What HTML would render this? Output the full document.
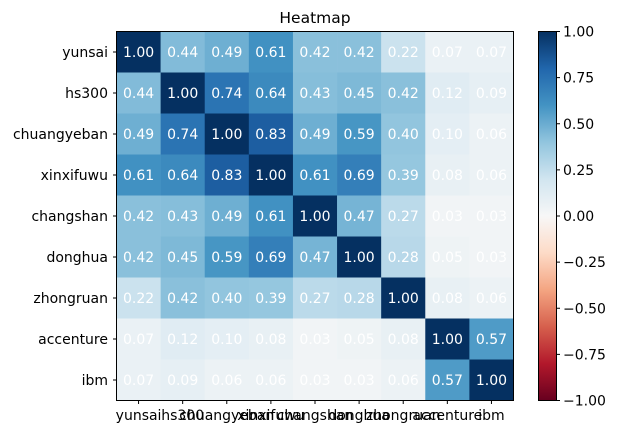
<!DOCTYPE html>
<html><head><meta charset="utf-8"><style>
html,body{margin:0;padding:0;background:#fff;}
svg{display:block;font-family:"DejaVu Sans","Liberation Sans",sans-serif;}
</style></head><body>
<svg id="s" width="641" height="435" viewBox="0 0 641 435" xmlns="http://www.w3.org/2000/svg">
<defs>
<linearGradient id="cb" x1="0" y1="1" x2="0" y2="0">
<stop offset="0" stop-color="#67001f"/><stop offset="0.1" stop-color="#b2182b"/><stop offset="0.2" stop-color="#d6604d"/><stop offset="0.3" stop-color="#f4a582"/><stop offset="0.4" stop-color="#fddbc7"/><stop offset="0.5" stop-color="#f7f7f7"/><stop offset="0.6" stop-color="#d1e5f0"/><stop offset="0.7" stop-color="#92c5de"/><stop offset="0.8" stop-color="#4393c3"/><stop offset="0.9" stop-color="#2166ac"/><stop offset="1" stop-color="#053061"/>
</linearGradient>
</defs>
<text x="315" y="23" font-size="15.5" text-anchor="middle">Heatmap</text>
<g id="cells"></g>
<rect x="116.5" y="31.5" width="397" height="369" fill="none" stroke="#000" stroke-width="1"/>
<rect x="538.5" y="31.5" width="18" height="369" fill="url(#cb)" stroke="#000" stroke-width="1"/>
<g id="ax" font-size="14"></g>
</svg>
<script>
var names=["yunsai","hs300","chuangyeban","xinxifuwu","changshan","donghua","zhongruan","accenture","ibm"];
var M=[[1,.44,.49,.61,.42,.42,.22,.07,.07],[.44,1,.74,.64,.43,.45,.42,.12,.09],[.49,.74,1,.83,.49,.59,.40,.10,.06],[.61,.64,.83,1,.61,.69,.39,.08,.06],[.42,.43,.49,.61,1,.47,.27,.03,.03],[.42,.45,.59,.69,.47,1,.28,.05,.03],[.22,.42,.40,.39,.27,.28,1,.08,.06],[.07,.12,.10,.08,.03,.05,.08,1,.57],[.07,.09,.06,.06,.03,.03,.06,.57,1]];
var st=["67001f","b2182b","d6604d","f4a582","fddbc7","f7f7f7","d1e5f0","92c5de","4393c3","2166ac","053061"].map(function(h){return [parseInt(h.substr(0,2),16),parseInt(h.substr(2,2),16),parseInt(h.substr(4,2),16)]});
function col(v){var t=(v+1)/2*10;var i=Math.min(9,Math.floor(t));var f=t-i;var a=st[i],b=st[i+1];return "rgb("+[0,1,2].map(function(k){return Math.round(a[k]+(b[k]-a[k])*f)}).join(",")+")";}
var L=116.5,T=31.5,W=397/9,H=369/9,s="",a="";
for(var r=0;r<9;r++)for(var c=0;c<9;c++){var x=L+c*W,y=T+r*H;
s+='<rect x="'+x+'" y="'+y+'" width="'+(W+0.3)+'" height="'+(H+0.3)+'" fill="'+col(M[r][c])+'"/>';
s+='<text x="'+(x+W/2)+'" y="'+(y+H/2+5)+'" font-size="14" fill="#fff" text-anchor="middle">'+M[r][c].toFixed(2)+'</text>';}
document.getElementById("cells").innerHTML=s;
for(var i=0;i<9;i++){var cx=L+(i+.5)*W,cy=T+(i+.5)*H;
a+='<line x1="'+cx+'" y1="400.5" x2="'+cx+'" y2="404" stroke="#000"/>';
a+='<text x="'+cx+'" y="420" text-anchor="middle">'+names[i]+'</text>';
a+='<line x1="113" y1="'+cy+'" x2="116.5" y2="'+cy+'" stroke="#000"/>';
a+='<text x="108" y="'+(cy+5)+'" text-anchor="end">'+names[i]+'</text>';}
var tl=["1.00","0.75","0.50","0.25","0.00","\u22120.25","\u22120.50","\u22120.75","\u22121.00"];
for(var j=0;j<9;j++){var y=31.5+j*369/8;
a+='<line x1="556.5" y1="'+y+'" x2="560" y2="'+y+'" stroke="#000"/>';
a+='<text x="563" y="'+(y+5)+'">'+tl[j]+'</text>';}
document.getElementById("ax").innerHTML=a;
</script>
</body></html>
